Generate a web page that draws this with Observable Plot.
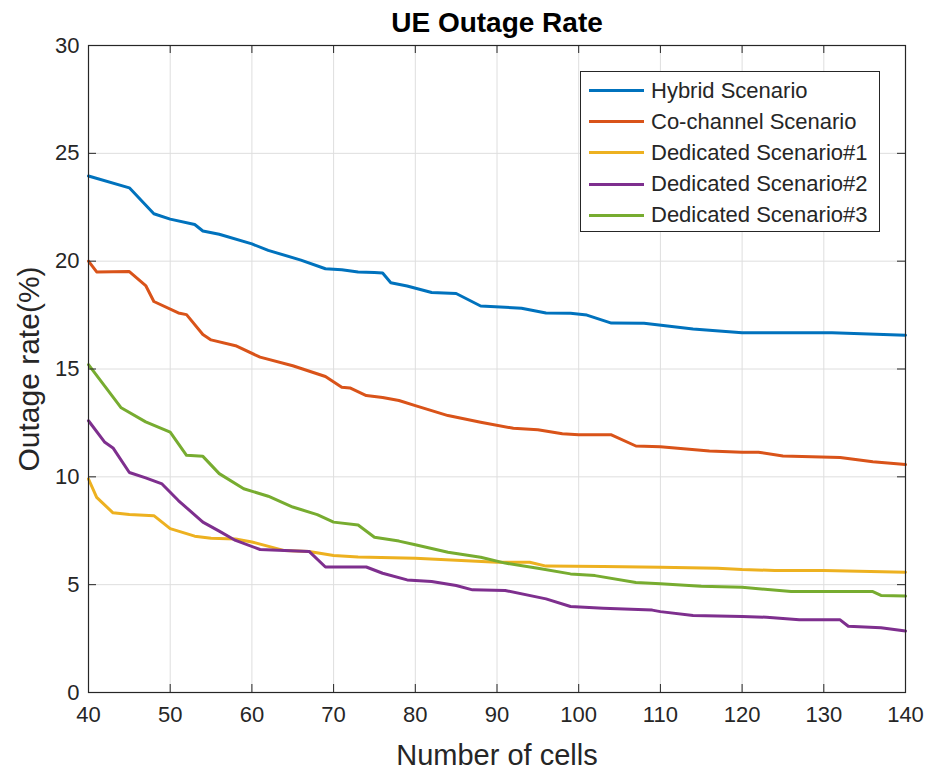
<!DOCTYPE html>
<html>
<head>
<meta charset="utf-8">
<script src="https://cdn.jsdelivr.net/npm/d3@7"></script>
<script src="https://cdn.jsdelivr.net/npm/@observablehq/plot@0.6"></script>
<style>
  html, body { margin: 0; padding: 0; background: #fff; }
  #chart { position: relative; width: 927px; height: 773px; font-family: "Liberation Sans", Arial, sans-serif; }
  #legend {
    position: absolute; left: 580px; top: 71px; width: 300px; height: 161px;
    border: 1.3px solid #262626; background: #fff; box-sizing: border-box;
    padding-top: 3px;
  }
  .row { display: flex; align-items: center; height: 31.2px; }
  .swatch { width: 55px; height: 3px; margin-left: 8px; margin-right: 7px; }
  .lab { font-size: 22px; color: #262626; white-space: nowrap; }
</style>
</head>
<body>
<div id="chart"></div>
<script>
// Series names and colours
const seriesNames = ["Hybrid Scenario", "Co-channel Scenario", "Dedicated Scenario#1", "Dedicated Scenario#2", "Dedicated Scenario#3"];
const seriesColors = ["#0072BD", "#D95319", "#EDB120", "#7E2F8E", "#77AC30"];

// Axis ticks
const xTicks = [40, 50, 60, 70, 80, 90, 100, 110, 120, 130, 140];
const yTicks = [0, 5, 10, 15, 20, 25, 30];

// Hybrid Scenario
const hybridX = [40, 45, 48, 50, 53, 54, 56, 60, 62, 66, 69, 71, 73, 75, 76, 77, 79, 82, 85, 88, 93, 96, 99, 101, 104, 108, 114, 120, 131, 140];
const hybridY = [23.95, 23.4, 22.2, 21.95, 21.7, 21.4, 21.25, 20.8, 20.5, 20.05, 19.65, 19.6, 19.5, 19.47, 19.45, 19.0, 18.85, 18.55, 18.5, 17.92, 17.82, 17.6, 17.58, 17.5, 17.13, 17.12, 16.86, 16.68, 16.68, 16.57];

// Co-channel Scenario
const cochanX = [40, 41, 45, 47, 48, 51, 52, 54, 55, 58, 61, 65, 69, 71, 72, 74, 76, 78, 80, 84, 88, 92, 95, 98, 100, 104, 107, 110, 116, 120, 122, 125, 132, 136, 140];
const cochanY = [20.0, 19.5, 19.52, 18.87, 18.13, 17.6, 17.52, 16.6, 16.35, 16.08, 15.55, 15.15, 14.65, 14.15, 14.12, 13.77, 13.68, 13.54, 13.3, 12.84, 12.53, 12.25, 12.18, 12.0, 11.95, 11.95, 11.43, 11.4, 11.2, 11.14, 11.14, 10.97, 10.9, 10.7, 10.57];

// Dedicated Scenario#1
const ded1X = [40, 41, 43, 45, 48, 50, 53, 55, 58, 60, 64, 67, 70, 73, 80, 90, 94, 96, 103, 110, 117, 120, 124, 130, 140];
const ded1Y = [9.9, 9.05, 8.33, 8.25, 8.2, 7.6, 7.25, 7.15, 7.12, 6.98, 6.58, 6.54, 6.35, 6.28, 6.23, 6.04, 6.04, 5.86, 5.84, 5.81, 5.76, 5.7, 5.66, 5.66, 5.58];

// Dedicated Scenario#2
const ded2X = [40, 42, 43, 45, 47, 49, 51, 54, 56, 58, 61, 64, 67, 69, 74, 76, 79, 82, 85, 87, 91, 96, 99, 103, 109, 110, 114, 120, 123, 127, 132, 133, 137, 140];
const ded2Y = [12.6, 11.6, 11.34, 10.2, 9.95, 9.67, 8.9, 7.9, 7.48, 7.05, 6.63, 6.58, 6.54, 5.82, 5.82, 5.53, 5.22, 5.15, 4.96, 4.76, 4.73, 4.34, 3.99, 3.91, 3.82, 3.75, 3.57, 3.52, 3.49, 3.37, 3.37, 3.07, 3.0, 2.85];

// Dedicated Scenario#3
const ded3X = [40, 44, 47, 50, 52, 54, 56, 59, 62, 65, 68, 70, 73, 75, 78, 80, 84, 88, 91, 95, 99, 102, 107, 110, 115, 120, 126, 136, 137, 140];
const ded3Y = [15.2, 13.2, 12.55, 12.07, 11.0, 10.95, 10.15, 9.45, 9.1, 8.6, 8.25, 7.9, 7.77, 7.2, 7.02, 6.85, 6.5, 6.27, 6.0, 5.76, 5.5, 5.42, 5.1, 5.04, 4.93, 4.88, 4.68, 4.68, 4.5, 4.47];

const seriesXs = [hybridX, cochanX, ded1X, ded2X, ded3X];
const seriesYs = [hybridY, cochanY, ded1Y, ded2Y, ded3Y];

const rows = seriesNames.flatMap((name, i) =>
  seriesXs[i].map((x, j) => ({series: name, cells: x, rate: seriesYs[i][j]}))
);

const W = 927, H = 773;
const mL = 88, mR = 22, mT = 45, mB = 81;
const innerW = W - mL - mR, innerH = H - mT - mB;
const ink = "#262626";
const tickLen = 8;

const chart = Plot.plot({
  width: W,
  height: H,
  marginLeft: mL,
  marginRight: mR,
  marginTop: mT,
  marginBottom: mB,
  style: {fontFamily: "'Liberation Sans', Arial, sans-serif", fontSize: "22px", color: ink, background: "#fff"},
  x: {domain: [40, 140]},
  y: {domain: [0, 30]},
  color: {domain: seriesNames, range: seriesColors},
  marks: [
    Plot.gridX(xTicks, {stroke: "#dedede", strokeOpacity: 1, strokeWidth: 1}),
    Plot.gridY(yTicks, {stroke: "#dedede", strokeOpacity: 1, strokeWidth: 1}),
    Plot.line(rows, {x: "cells", y: "rate", z: "series", stroke: "series", strokeWidth: 3, strokeLinejoin: "round"}),
    Plot.frame({stroke: ink, strokeWidth: 1.2}),
    // inward ticks on all four sides
    Plot.tickX(xTicks, {x: d => d, insetTop: innerH - tickLen, stroke: ink}),
    Plot.tickX(xTicks, {x: d => d, insetBottom: innerH - tickLen, stroke: ink}),
    Plot.tickY(yTicks, {y: d => d, insetRight: innerW - tickLen, stroke: ink}),
    Plot.tickY(yTicks, {y: d => d, insetLeft: innerW - tickLen, stroke: ink}),
    Plot.axisX(xTicks, {tickSize: 0, tickPadding: 14, label: null, fontSize: 22}),
    Plot.axisY(yTicks, {tickSize: 0, tickPadding: 9, label: null, fontSize: 22}),
    Plot.text(["Number of cells"], {text: d => d, frameAnchor: "bottom", lineAnchor: "middle", dy: 63, fontSize: 29, fill: ink}),
    Plot.text(["Outage rate(%)"], {text: d => d, frameAnchor: "left", textAnchor: "middle", lineAnchor: "middle", dx: -59, rotate: -90, fontSize: 30, fill: ink}),
    Plot.text(["UE Outage Rate"], {text: d => d, frameAnchor: "top", lineAnchor: "middle", dy: -22, fontSize: 28, fontWeight: "bold", fill: "#000"})
  ]
});

const host = document.getElementById("chart");
host.appendChild(chart);

// Legend with line samples
const legend = document.createElement("div");
legend.id = "legend";
seriesNames.forEach((name, i) => {
  const row = document.createElement("div");
  row.className = "row";
  const sw = document.createElement("span");
  sw.className = "swatch";
  sw.style.background = seriesColors[i];
  const lab = document.createElement("span");
  lab.className = "lab";
  lab.textContent = name;
  row.appendChild(sw);
  row.appendChild(lab);
  legend.appendChild(row);
});
host.appendChild(legend);
</script>
</body>
</html>
